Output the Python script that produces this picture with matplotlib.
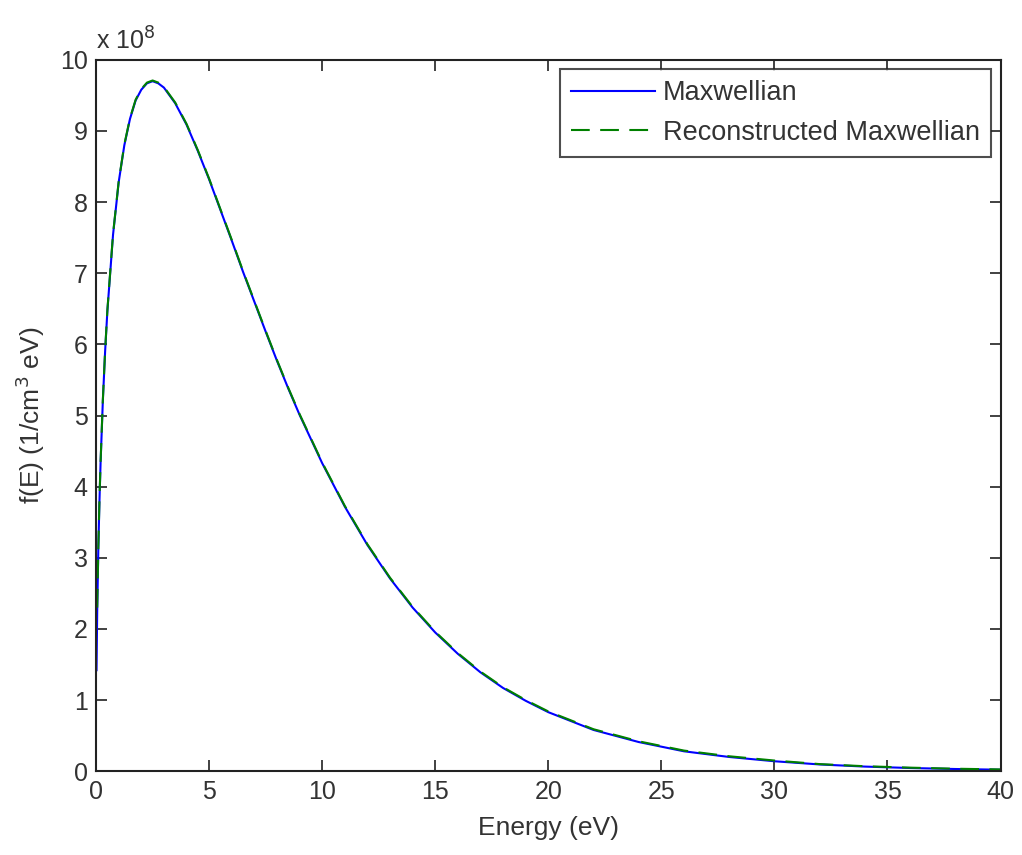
import numpy as np
import matplotlib
matplotlib.use("Agg")
import matplotlib.pyplot as plt

plt.rcParams['font.family'] = ['Liberation Sans', 'DejaVu Sans']

# energy (eV) and f(E) in units of 1e8 1/(cm^3 eV)
energy = [0.02, 0.05, 0.1, 0.15, 0.2, 0.3, 0.4, 0.5, 0.75, 1.0, 1.25, 1.5, 1.75,
          2.0, 2.25, 2.5, 2.75, 3.0, 3.5, 4.0, 4.5, 5.0, 5.5, 6.0, 6.5, 7.0, 7.5,
          8.0, 8.5, 9.0, 10.0, 11.0, 12.0, 13.0, 14.0, 15.0, 16.0, 17.0, 18.0,
          19.0, 20.0, 22.0, 24.0, 26.0, 28.0, 30.0, 32.0, 34.0, 36.0, 38.0, 40.0]
maxwellian = [1.42, 2.24, 3.13, 3.80, 4.34, 5.21, 5.90, 6.47, 7.54, 8.28, 8.80, 9.17, 9.43,
              9.58, 9.67, 9.70, 9.67, 9.61, 9.39, 9.09, 8.72, 8.32, 7.89, 7.46, 7.02, 6.60, 6.18,
              5.77, 5.38, 5.01, 4.33, 3.72, 3.18, 2.71, 2.30, 1.95, 1.65, 1.39, 1.17,
              0.99, 0.83, 0.58, 0.41, 0.28, 0.20, 0.14, 0.095, 0.065, 0.045, 0.031, 0.021]

# reconstructed curve starts a little later than the analytic one
energy_rec = energy[1:]
reconstructed = [2.30, 3.15, 3.82, 4.35, 5.22, 5.91, 6.48, 7.55, 8.29, 8.81, 9.18, 9.44,
                 9.59, 9.68, 9.71, 9.68, 9.62, 9.40, 9.10, 8.73, 8.33, 7.90, 7.47, 7.03, 6.61, 6.19,
                 5.78, 5.39, 5.02, 4.34, 3.73, 3.19, 2.72, 2.31, 1.96, 1.66, 1.40, 1.18,
                 1.00, 0.84, 0.59, 0.42, 0.29, 0.21, 0.15, 0.10, 0.07, 0.05, 0.035, 0.025]

xticks = np.arange(0, 41, 5)
yticks = np.arange(0, 11, 1)

txt = '#333333'

fig = plt.figure(figsize=(10.22, 8.55), dpi=100)
ax = fig.add_axes([0.094, 0.098, 0.885, 0.832])

ax.plot(energy, maxwellian, color='#0000ff', lw=1.5, label='Maxwellian')
ax.plot(energy_rec, reconstructed, color='#008000', lw=1.5, ls=(0, (9, 5)),
        label='Reconstructed Maxwellian')

ax.set_xlim(0, 40)
ax.set_ylim(0, 10)
ax.set_xticks(xticks)
ax.set_yticks(yticks)
ax.tick_params(direction='in', length=8, width=1.3, top=True, right=True,
               labelsize=18, colors=txt, pad=6)
for s in ax.spines.values():
    s.set_linewidth(1.5)
    s.set_color('#222222')

ax.set_xlabel('Energy (eV)', fontsize=19, color=txt, labelpad=9)
ax.set_ylabel('f(E) (1/cm$^3$ eV)', fontsize=19, color=txt, labelpad=9)
ax.text(0.0, 1.008, 'x 10$^8$', transform=ax.transAxes, fontsize=18,
        color=txt, ha='left', va='bottom')

leg = ax.legend(loc='upper right', fontsize=19.5, frameon=True, fancybox=False,
                edgecolor='#222222', handlelength=3.1, borderpad=0.4,
                labelspacing=0.5, handletextpad=0.3, borderaxespad=0.35)
leg.get_frame().set_linewidth(1.5)
for t in leg.get_texts():
    t.set_color(txt)

fig.savefig('out.png', dpi=100)
